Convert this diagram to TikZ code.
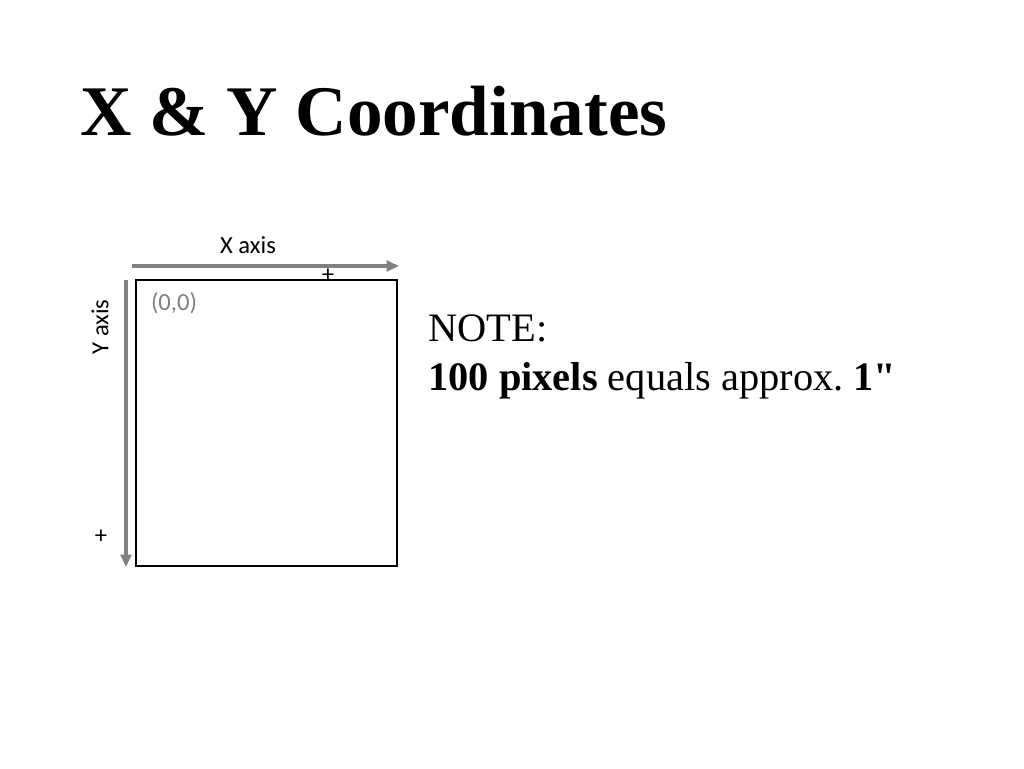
\documentclass[tikz,border=0pt]{standalone}
\usepackage{fontspec}
\setmainfont{Liberation Serif}
\newfontfamily\notefont[Ligatures=TeXOff]{Liberation Serif}
\newfontfamily\calibri{Carlito}
\usetikzlibrary{arrows.meta}

\begin{document}
\begin{tikzpicture}[x=0.02cm, y=-0.02cm,
    axis/.style={draw=gray, line width=2.2pt, -{Triangle[length=7pt,width=6pt]}},
    lbl/.style={font=\calibri\fontsize{14}{16}\selectfont, inner sep=0pt},
    note/.style={font=\notefont\fontsize{23}{28}\selectfont, anchor=base west, inner sep=0pt}]
    \useasboundingbox (0,0) rectangle (1024,768);

    \node [anchor=base west, inner sep=0pt, font=\bfseries\fontsize{40.5}{46}\selectfont] (title) at (80,135) {X \& Y Coordinates};

    % the screen
    \node [draw, line width=1.1pt, minimum width=261*0.02cm, minimum height=286*0.02cm, inner sep=0pt, anchor=north west] (screen) at (135,279) {};

    % axes
    \coordinate (xstart) at (132,266);
    \coordinate (xend) at (399,266);
    \coordinate (ystart) at (126,280);
    \coordinate (yend) at (126,567);
    \draw [axis] (xstart) -- (xend);
    \draw [axis] (ystart) -- (yend);

    \node [lbl] (xlabel) at (248,245) {X axis};
    \node [lbl, rotate=90] (ylabel) at (100,327) {Y axis};
    \node [lbl, text=gray] (origin) at (174,303) {(0,0)};
    \node [lbl] (xplus) at (328,276) {+};
    \node [lbl] (yplus) at (101,537) {+};

    % note
    \node [note] (note1) at (428,341) {NOTE:};
    \node [note] (note2) at (428,390) {\textbf{100 pixels} equals approx.\ \textbf{1"}};
\end{tikzpicture}
\end{document}
